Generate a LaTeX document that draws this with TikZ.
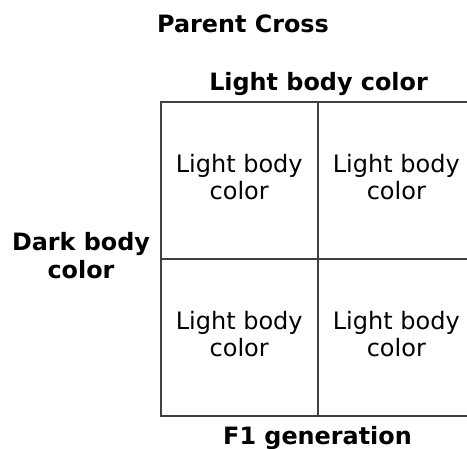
\documentclass[tikz,border=0pt]{standalone}
\usepackage{fontspec}
\setmainfont{DejaVu Sans}
\definecolor{gridgray}{HTML}{404040}
\begin{document}
\begin{tikzpicture}[x=0.75pt,y=-0.75pt,
  cell/.style={draw=gridgray, line width=1.4pt, minimum width=117.75pt, minimum height=117.75pt, inner sep=0pt, outer sep=0pt, anchor=north west},
  celltext/.style={font=\fontsize{18}{20.6}\selectfont, align=center, inner sep=0pt},
  head/.style={font=\bfseries\fontsize{17.9}{20.7}\selectfont, align=center, inner sep=0pt}]
\useasboundingbox (0,0) rectangle (467,449);
\node[cell] (c11) at (160.7,102) {};
\node[cell] (c12) at (317.7,102) {};
\node[cell] (c21) at (160.7,259) {};
\node[cell] (c22) at (317.7,259) {};
\node[celltext] (t11) at (239.2,177.3) {Light body\\color};
\node[celltext] (t12) at (396.3,177.3) {Light body\\color};
\node[celltext] (t21) at (239.2,334.3) {Light body\\color};
\node[celltext] (t22) at (396.3,334.3) {Light body\\color};
\node[head, anchor=base] (title) at (243,33) {Parent Cross};
\node[head, anchor=base] (top) at (318.5,91) {Light body color};
\node[head] (left) at (81,255.4) {Dark body\\color};
\node[head, anchor=base] (bottom) at (317.5,444.3) {F1 generation};
\end{tikzpicture}
\end{document}
